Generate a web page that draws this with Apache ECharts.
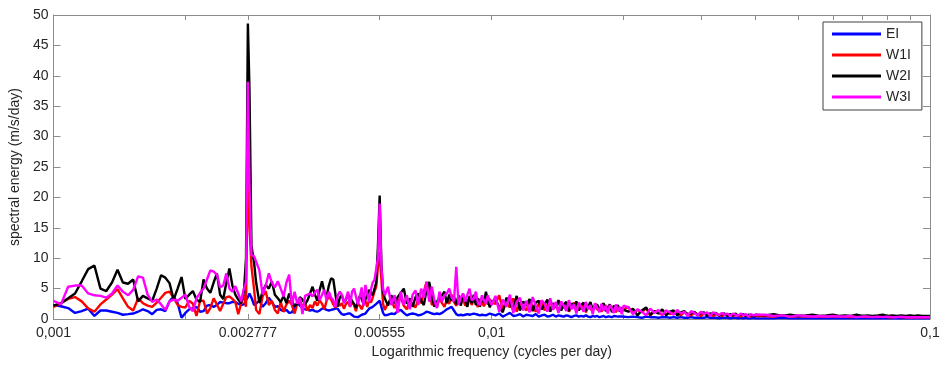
<!DOCTYPE html>
<html><head><meta charset="utf-8">
<script src="https://cdn.jsdelivr.net/npm/echarts@6/dist/echarts.min.js"></script>
<style>html,body{margin:0;padding:0;background:#fff}#c{width:945px;height:369px}</style>
</head><body><div id="c"></div>
<script>
// Frequency bins (cycles per day)
const freqs = [
0.00100,0.00104,0.00108,0.00112,0.00116,0.00120,0.00124,0.00128,0.00132,0.00136,0.00140,0.00144,0.00148,0.00152,0.00156,0.00160,0.00164,0.00168,0.00172,0.00176,0.00180,0.00184,0.00188,0.00192,0.00196,0.00200,0.00204,0.00208,0.00212,0.00216,0.00220,0.00224,0.00228,0.00232,0.00236,0.00240,0.00244,0.00248,0.00252,0.00256,0.00260,0.00264,0.00268,
0.00272,0.00275,0.002777,0.00280,0.00283,0.00287,
0.00290,0.00295,0.00300,0.00305,0.00310,0.00315,0.00320,0.00325,0.00330,0.00335,0.00340,0.00345,0.00350,0.00355,0.00360,0.00365,0.00370,0.00375,0.00380,0.00385,0.00390,0.00395,0.00400,0.00405,0.00410,0.00415,0.00420,0.00425,0.00430,0.00435,0.00440,0.00445,0.00450,0.00455,0.00460,0.00465,0.00470,0.00475,0.00480,0.00485,0.00490,0.00495,0.00500,0.00505,0.00510,0.00515,0.00520,0.00525,0.00530,0.00535,0.00540,
0.00545,0.00550,0.00555,0.00560,0.00565,
0.0057,0.0058,0.0059,0.0060,0.0061,0.0062,0.0063,0.0064,0.0065,0.0066,0.0067,0.0068,0.0069,0.0070,0.0071,0.0072,0.0073,0.0074,0.0075,0.0076,0.0077,0.0078,0.0079,0.0080,0.0081,0.0082,0.0083,0.0084,0.0085,0.0086,0.0087,0.0088,0.0089,0.0090,0.0091,0.0092,0.0093,0.0094,0.0095,0.0096,0.0097,0.0098,0.0099,0.0100,
0.0102,0.0104,0.0106,0.0108,0.0110,0.0112,0.0114,0.0116,0.0118,0.0120,0.0122,0.0124,0.0126,0.0128,0.0130,0.0132,0.0134,0.0136,0.0138,0.0140,0.0142,0.0144,0.0146,0.0148,0.0150,0.0152,0.0154,0.0156,0.0158,0.0160,0.0162,0.0164,0.0166,0.0168,0.0170,0.0172,0.0174,0.0176,0.0178,0.0180,0.0182,0.0184,0.0186,0.0188,0.0190,0.0192,0.0194,0.0196,0.0198,0.0200,
0.0205,0.0210,0.0215,0.0220,0.0225,0.0230,0.0235,0.0240,0.0245,0.0250,0.0255,0.0260,0.0265,0.0270,0.0275,0.0280,0.0285,0.0290,0.0295,0.0300,0.0305,0.0310,0.0315,0.0320,0.0325,0.0330,0.0335,0.0340,0.0345,0.0350,0.0355,0.0360,0.0365,0.0370,0.0375,0.0380,0.0385,0.0390,0.0395,0.0400,
0.042,0.044,0.046,0.048,0.050,0.052,0.054,0.056,0.058,0.060,0.062,0.064,0.066,0.068,0.070,0.072,0.074,0.076,0.078,0.080,0.082,0.084,0.086,0.088,0.090,0.092,0.094,0.096,0.098,0.100
];

const eiValues = [
2.3,2.1,1.8,1.0,1.3,1.7,0.5,1.4,1.4,1.2,1.0,0.7,0.8,0.9,1.2,1.6,1.3,0.8,1.5,1.6,1.3,2.9,3.7,2.6,0.2,1.0,1.6,1.8,2.0,1.2,1.3,2.2,2.3,2.0,2.3,2.8,2.7,2.6,2.6,2.8,2.8,2.5,2.3,
2.4,3.1,3.6,4.2,3.5,2.3,
2.3,3.0,2.0,2.6,3.5,2.8,2.0,2.1,1.5,1.3,1.5,1.0,1.1,2.0,2.7,2.2,1.8,1.6,1.5,1.4,1.5,1.3,1.2,1.4,1.7,1.7,1.5,1.4,1.5,1.6,1.7,1.7,1.2,0.8,0.7,0.8,0.9,0.9,0.6,0.4,0.3,0.3,0.5,0.7,0.6,0.9,1.3,1.7,1.8,2.0,2.3,
2.5,2.8,3.0,2.0,1.0,
0.6,0.7,0.9,0.8,1.3,1.5,1.0,0.6,0.8,0.9,0.8,0.6,0.7,0.9,1.2,1.1,0.9,0.8,0.9,0.8,1.0,1.3,1.6,1.8,2.0,1.4,0.8,0.6,0.7,0.6,0.7,0.8,0.7,0.8,0.9,0.8,0.7,0.6,0.7,0.8,0.6,0.7,0.9,1.1,
0.6,0.9,0.4,0.7,1.0,0.5,0.6,0.8,0.4,0.7,0.6,0.5,0.8,0.4,0.6,0.7,0.4,0.5,0.7,0.4,0.6,0.5,0.4,0.6,0.5,0.3,0.5,0.6,0.4,0.5,0.4,0.6,0.4,0.3,0.5,0.4,0.5,0.3,0.4,0.5,0.3,0.4,0.4,0.3,0.5,0.3,0.4,0.3,0.4,0.3,
0.3,0.4,0.3,0.2,0.4,0.3,0.3,0.2,0.3,0.3,0.2,0.3,0.2,0.3,0.2,0.2,0.3,0.2,0.2,0.2,0.2,0.3,0.2,0.2,0.2,0.1,0.2,0.2,0.2,0.1,0.2,0.2,0.1,0.2,0.1,0.2,0.1,0.1,0.2,0.1,
0.1,0.1,0.2,0.1,0.1,0.1,0.1,0.1,0.1,0.1,0.1,0.1,0.1,0.1,0.1,0.1,0.1,0.1,0.1,0.1,0.1,0.1,0.1,0.1,0.1,0.1,0.1,0.1,0.1,0.1
];

const w1iValues = [
2.0,2.6,3.3,3.6,2.9,1.75,1.2,2.4,3.2,4.0,4.9,3.4,2.0,1.4,3.4,2.6,2.2,2.0,2.7,3.5,4.3,4.5,3.5,2.3,2.0,1.9,3.0,2.5,0.5,3.0,3.0,0.9,1.8,3.4,2.4,1.3,2.5,3.6,3.7,3.3,2.8,0.8,2.5,
4.0,2.0,29,15,8.6,4.8,
1.5,0.8,3.7,4.6,2.3,3.0,1.5,0.9,2.8,1.2,2.4,3.0,2.3,0.9,2.5,3.1,2.0,2.6,1.4,2.3,1.8,2.9,2.2,3.1,2.5,1.6,3.0,3.7,3.2,2.4,1.9,2.6,2.2,2.6,1.7,2.5,2.85,2.0,2.8,2.3,1.3,2.6,2.2,1.6,2.5,3.0,2.0,3.1,2.7,3.5,4.5,
5.3,8.5,11,6.5,2.5,
1.5,2.6,3.2,1.8,2.9,3.5,2.2,1.6,3.0,2.4,1.9,3.3,2.6,4.5,6.1,5.2,2.3,3.0,2.0,3.4,2.6,2.0,3.2,2.5,4.0,2.8,2.2,3.0,2.4,3.4,2.2,2.9,3.5,2.3,3.1,2.6,2.0,3.3,2.7,2.1,3.0,2.4,3.3,2.7,
2.5,3.9,1.5,2.6,1.9,3.4,1.2,2.7,2.0,1.4,2.9,2.2,1.2,2.5,3.0,1.4,2.3,2.9,1.6,2.2,1.3,2.6,1.8,2.4,1.2,2.1,2.7,1.4,2.0,1.6,2.4,1.1,2.2,1.7,1.3,2.3,1.5,2.0,1.2,1.8,2.3,1.3,1.9,1.5,2.1,1.1,1.8,2.0,1.2,1.6,
2.0,0.9,1.5,1.1,1.8,0.6,1.3,1.0,0.7,1.4,0.8,1.2,1.0,0.6,1.1,0.9,0.6,1.0,0.8,0.5,0.9,0.7,0.8,0.5,0.8,0.7,0.5,0.8,0.6,0.7,0.5,0.7,0.6,0.4,0.7,0.5,0.6,0.4,0.6,0.5,
0.5,0.4,0.6,0.4,0.5,0.4,0.5,0.4,0.4,0.5,0.4,0.4,0.3,0.4,0.4,0.3,0.4,0.3,0.4,0.3,0.3,0.4,0.3,0.3,0.3,0.3,0.3,0.3,0.3,0.3
];

const w2iValues = [
2.2,2.6,3.4,4.2,6.2,8.2,8.8,5.0,4.6,6.0,8.1,6.0,5.8,6.5,2.9,3.8,3.4,3.0,5.0,7.2,6.8,5.9,3.2,5.0,6.9,3.3,4.0,4.6,3.2,2.8,6.5,5.0,4.3,6.0,7.5,4.0,3.3,6.0,8.3,5.5,4.0,3.2,2.6,
4.5,10,48.6,38,12,9.2,
6.0,2.7,4.5,5.6,5.0,6.2,4.0,3.4,2.8,3.8,2.6,4.2,3.0,2.1,2.5,3.6,3.2,2.4,3.1,4.2,5.3,4.0,3.0,4.8,6.2,4.5,3.7,5.5,6.7,6.5,4.0,2.0,3.5,3.9,2.8,3.2,4.0,3.5,3.8,2.5,1.8,2.9,3.8,3.3,2.4,2.7,4.0,4.8,5.0,3.9,4.2,
6.0,12,20.3,9.0,4.5,
3.4,2.2,3.9,2.6,3.6,4.3,5.0,2.5,3.4,2.0,3.6,4.2,3.0,2.3,4.8,6.1,3.9,2.0,2.85,3.5,3.9,4.5,2.6,4.0,3.0,3.7,2.4,3.9,2.2,4.1,3.0,2.0,3.8,2.6,4.0,2.3,3.4,2.0,3.6,2.7,4.5,3.0,1.9,2.85,
3.2,2.0,1.1,3.5,2.6,1.5,3.8,1.4,2.9,2.2,3.3,1.3,2.7,3.0,1.6,2.4,3.2,1.2,2.6,1.9,3.1,1.4,2.4,2.8,1.3,2.6,1.8,2.9,1.4,2.3,2.7,1.3,2.1,2.8,1.5,2.0,2.4,1.2,2.2,2.6,1.3,1.9,2.4,1.1,2.2,1.6,2.3,1.2,1.9,1.5,
1.2,1.7,0.6,1.4,1.9,0.7,1.3,0.9,1.6,0.6,1.2,1.4,0.6,1.1,1.3,0.7,0.9,1.2,0.6,1.0,1.1,0.5,0.9,0.8,1.0,0.5,0.8,0.9,0.5,0.8,0.6,0.9,0.5,0.7,0.8,0.5,0.7,0.6,0.5,0.7,
0.6,0.8,0.5,0.7,0.5,0.6,0.7,0.5,0.6,0.7,0.5,0.6,0.5,0.7,0.5,0.6,0.5,0.6,0.7,0.5,0.6,0.5,0.6,0.5,0.6,0.5,0.6,0.5,0.5,0.5
];

const w3iValues = [
3.0,2.4,5.3,5.5,5.5,4.2,3.9,3.8,3.5,4.2,5.5,4.5,3.9,4.8,7.0,6.8,4.0,2.8,3.2,2.4,1.5,2.9,3.2,3.0,3.5,4.0,2.0,1.3,3.4,4.3,5.0,6.5,8.0,7.8,7.3,5.2,5.5,7.5,5.0,4.5,5.4,4.2,2.9,
5.0,6.1,39,22,10.5,10.3,
10.3,8.0,4.0,5.5,7.5,6.0,5.2,6.2,5.0,3.7,6.0,7.3,2.3,4.5,2.5,3.5,0.8,3.8,4.0,4.2,3.7,4.4,4.8,3.1,4.0,4.8,3.0,4.5,3.5,3.1,2.0,3.8,4.5,4.0,2.6,3.4,4.5,2.0,4.5,5.0,5.3,2.4,3.7,5.2,2.2,5.6,5.5,2.8,4.8,6.0,6.4,
6.5,10,19.0,8.5,5.0,
3.9,5.3,2.3,3.9,1.0,4.5,2.3,3.9,1.6,4.0,4.7,2.3,5.0,3.5,6.1,2.85,5.3,3.0,1.8,4.5,2.85,3.9,4.2,5.0,3.6,2.9,8.6,2.3,3.5,4.2,2.85,4.0,5.0,3.1,3.3,4.5,2.6,2.3,3.9,3.0,2.6,3.9,2.9,2.3,
3.8,1.2,3.2,2.0,4.0,1.0,2.8,3.5,1.4,3.0,1.1,3.6,2.2,0.9,3.1,2.5,1.2,3.4,1.5,2.8,1.0,2.9,2.2,1.3,3.1,1.6,2.4,0.9,2.7,2.0,1.2,2.8,1.6,2.3,0.8,2.6,1.9,1.1,2.5,1.4,2.2,0.9,2.3,1.7,1.0,2.4,1.3,2.0,0.8,2.2,
1.9,0.8,1.6,1.2,0.6,1.7,1.0,1.5,0.6,1.4,1.1,0.7,1.5,0.9,1.2,0.5,1.3,1.0,0.6,1.2,0.8,1.1,0.5,1.1,0.9,0.6,1.0,0.7,0.9,0.5,0.9,0.7,0.5,0.9,0.6,0.8,0.4,0.8,0.6,0.7,
0.7,0.5,0.6,0.4,0.6,0.5,0.4,0.5,0.4,0.5,0.4,0.4,0.5,0.3,0.4,0.4,0.3,0.4,0.3,0.4,0.3,0.3,0.4,0.3,0.3,0.3,0.3,0.3,0.3,0.3
];

const seriesNames = ['EI', 'W1I', 'W2I', 'W3I'];
const seriesColors = ['#0000ff', '#ff0000', '#000000', '#ff00ff'];
const labelFreqs = [0.001, 0.002777, 0.00555, 0.01, 0.1];
const labelTexts = ['0,001', '0.002777', '0.00555', '0,01', '0,1'];
const tickFreqs = [0.002, 0.002777, 0.00555, 0.01, 0.02, 0.03, 0.04, 0.05, 0.06, 0.07, 0.08, 0.09];
const yMin = 0, yMax = 50, yStep = 5;

const allValues = [eiValues, w1iValues, w2iValues, w3iValues];
const frameColor = '#8c8c8c';
const textColor = '#262626';
const fontFamily = '"Liberation Sans", Arial, Helvetica, sans-serif';

const chart = echarts.init(document.getElementById('c'), null, {renderer: 'canvas'});
const logTicks = tickFreqs.map(f => Math.log10(f));
const logLabels = labelFreqs.map(f => Math.log10(f));

chart.setOption({
  animation: false,
  backgroundColor: '#ffffff',
  textStyle: {fontFamily: fontFamily},
  grid: {left: 52, right: 15, top: 15, bottom: 50, containLabel: false},
  legend: {
    orient: 'vertical', left: 823, top: 22,
    padding: [5, 11, 6, 9], itemGap: 7,
    itemWidth: 49, itemHeight: 3, icon: 'rect',
    backgroundColor: '#ffffff', borderColor: '#404040', borderWidth: 1,
    textStyle: {fontSize: 14, color: textColor, fontFamily: fontFamily},
    data: seriesNames
  },
  xAxis: [
    {type: 'log', logBase: 10, min: 0.001, max: 0.1, show: false},
    {type: 'value', min: -3, max: -1, position: 'bottom',
     name: 'Logarithmic frequency (cycles per day)', nameLocation: 'middle', nameGap: 18,
     nameTextStyle: {fontSize: 14, color: textColor},
     axisLine: {show: true, lineStyle: {color: frameColor, width: 1}},
     axisTick: {show: true, inside: true, length: 5, customValues: logTicks, lineStyle: {color: frameColor}},
     axisLabel: {show: true, margin: 7, fontSize: 14, color: textColor, customValues: logLabels,
       formatter: function (v) {
         for (let i = 0; i < logLabels.length; i++) { if (Math.abs(logLabels[i] - v) < 1e-6) return labelTexts[i]; }
         return '';
       }},
     splitLine: {show: false}},
    {type: 'value', min: -3, max: -1, position: 'top',
     axisLine: {show: true, lineStyle: {color: frameColor, width: 1}},
     axisTick: {show: true, inside: true, length: 5, customValues: logTicks, lineStyle: {color: frameColor}},
     axisLabel: {show: false}, splitLine: {show: false}}
  ],
  yAxis: [
    {type: 'value', min: yMin, max: yMax, interval: yStep, position: 'left',
     name: 'spectral energy (m/s/day)', nameLocation: 'middle', nameGap: 27,
     nameTextStyle: {fontSize: 14, color: textColor},
     axisLine: {show: true, lineStyle: {color: frameColor, width: 1}},
     axisTick: {show: true, inside: true, length: 7, lineStyle: {color: frameColor}},
     axisLabel: {margin: 5, fontSize: 14, color: textColor},
     splitLine: {show: false}},
    {type: 'value', min: yMin, max: yMax, interval: yStep, position: 'right',
     axisLine: {show: true, lineStyle: {color: frameColor, width: 1}},
     axisTick: {show: true, inside: true, length: 7, lineStyle: {color: frameColor}},
     axisLabel: {show: false}, splitLine: {show: false}}
  ],
  series: seriesNames.map((name, si) => ({
    name: name, type: 'line', xAxisIndex: 0, yAxisIndex: 0,
    showSymbol: false, symbol: 'none',
    lineStyle: {color: seriesColors[si], width: 2.4},
    itemStyle: {color: seriesColors[si]},
    data: freqs.map((f, i) => [f, allValues[si][i]])
  }))
});
</script>
</body></html>
